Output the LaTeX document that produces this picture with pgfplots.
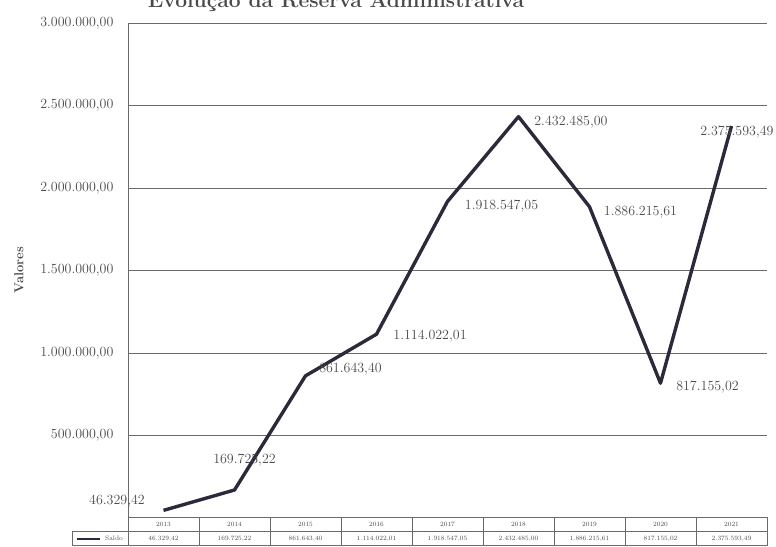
\documentclass[border=0pt]{standalone}
\usepackage{pgfplots}
\pgfplotsset{compat=1.18}
\definecolor{lineC}{HTML}{2B2A3A}
\definecolor{gridC}{HTML}{6A6A6A}
\definecolor{txtC}{HTML}{4A4A4A}
\begin{document}
\begin{tikzpicture}[x=1pt,y=1pt]
\begin{axis}[
  at={(128pt,-518pt)}, anchor=south west,
  scale only axis, width=639pt, height=495pt,
  xmin=-0.5, xmax=8.5, ymin=0, ymax=3000000,
  axis x line=none,
  axis y line*=left,
  y axis line style={draw=gridC, line width=0.9pt},
  ymajorgrids, grid style={draw=gridC, line width=0.9pt},
  ytick={500000,1000000,1500000,2000000,2500000,3000000},
  yticklabels={500.000{,}00,1.000.000{,}00,1.500.000{,}00,2.000.000{,}00,2.500.000{,}00,3.000.000{,}00},
  scaled y ticks=false,
  major tick length=0pt,
  yticklabel style={font=\fontsize{14}{16}\selectfont, text=txtC, anchor=east, xshift=-11pt},
  clip=false,
]
\addplot[color=lineC, line width=3.4pt, line join=round] coordinates {
  (0,46329.42) (1,169725.22) (2,861643.40) (3,1114022.01) (4,1918547.05)
  (5,2432485.00) (6,1886215.61) (7,817155.02) (8,2375593.49)};
\begin{scope}[every node/.style={font=\fontsize{14}{16}\selectfont, text=txtC, inner sep=0pt}]
\node at (axis cs:-0.655,103030) {46.329,42};
\node at (axis cs:1.141,351515) {169.725,22};
\node at (axis cs:2.634,903030) {861.643,40};
\node at (axis cs:3.754,1103030) {1.114.022,01};
\node at (axis cs:4.761,1890909) {1.918.547,05};
\node at (axis cs:5.739,2400000) {2.432.485,00};
\node at (axis cs:6.718,1854545) {1.886.215,61};
\node at (axis cs:7.662,793939) {817.155,02};
\node at (axis cs:8.077,2339394) {2.375.593,49};
\end{scope}
\end{axis}
% title (cut off at top, as in the scan)
\node[font=\fontsize{21}{24}\selectfont\bfseries, text=txtC, anchor=base] at (336,-7) {Evolução da Reserva Administrativa};
% y label
\node[rotate=90, font=\fontsize{13}{15}\selectfont\bfseries, text=txtC] at (19,-270) {Valores};
% data table
\draw[gridC, line width=0.8pt] (128,-517) -- (768,-517);
\draw[gridC, line width=0.8pt] (72,-531) -- (768,-531);
\draw[gridC, line width=0.8pt] (72,-545.5) -- (768,-545.5);
\draw[gridC, line width=0.8pt] (72,-531) -- (72,-546);
\foreach \i in {0,...,9} {
  \draw[gridC, line width=0.8pt] ({128+71*\i},-517) -- ({128+71*\i},-546);
}
\draw[lineC, line width=2pt] (77,-538.5) -- (100,-538.5);
\node[font=\fontsize{6.5}{7}\selectfont, text=txtC] at (114,-538.5) {Saldo};
\foreach \yr [count=\k from 0] in {2013,2014,2015,2016,2017,2018,2019,2020,2021} {
  \node[font=\fontsize{6.5}{7}\selectfont, text=txtC] at ({163.5+71*\k},-524) {\yr};
}
\foreach \v [count=\k from 0] in {46.329{,}42,169.725{,}22,861.643{,}40,1.114.022{,}01,1.918.547{,}05,2.432.485{,}00,1.886.215{,}61,817.155{,}02,2.375.593{,}49} {
  \node[font=\fontsize{6.5}{7}\selectfont, text=txtC] at ({163.5+71*\k},-538.5) {\v};
}
\pgfresetboundingbox
\useasboundingbox (0,0) rectangle (776,-546);
\end{tikzpicture}
\end{document}
